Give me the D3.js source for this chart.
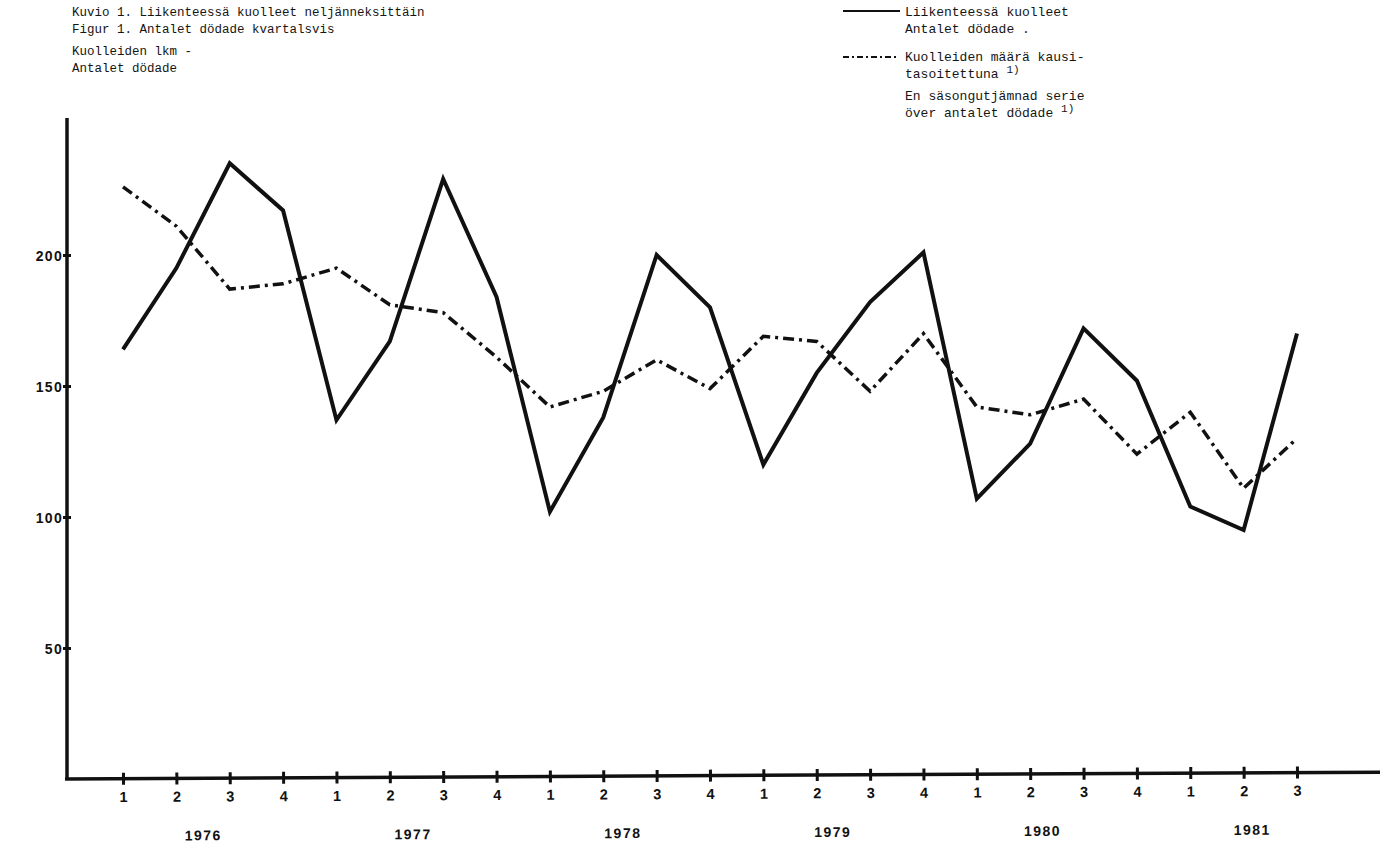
<!DOCTYPE html>
<html>
<head>
<meta charset="utf-8">
<script src="https://cdn.jsdelivr.net/npm/d3@7/dist/d3.min.js"></script>
<style>
  html, body { margin: 0; padding: 0; background: #fff; }
  svg { display: block; }
  .mono { font-family: "Liberation Mono", "DejaVu Sans Mono", monospace; fill: #151515; }
  .tick-lbl { font-family: "Liberation Sans", Arial, sans-serif; font-weight: bold; fill: #111; }
</style>
</head>
<body>
<svg id="chart" width="1385" height="850"></svg>
<script>
// ---- data ----
const quarterLabels = ["1","2","3","4","1","2","3","4","1","2","3","4","1","2","3","4","1","2","3","4","1","2","3"];
const years = ["1976","1977","1978","1979","1980","1981"];
const deaths = [164,195,235,217,137,167,229,184,102,138,200,180,120,155,182,201,107,128,172,152,104,95,170];
const seasonal = [226,211,187,189,195,181,178,161,142,148,160,149,169,167,148,170,142,139,145,124,140,111,130];
const yTicks = [50,100,150,200];
const titleLines = ["Kuvio 1. Liikenteessä kuolleet neljänneksittäin", "Figur 1. Antalet dödade kvartalsvis"];
const yTitleLines = ["Kuolleiden lkm -", "Antalet dödade"];
const legendSolid = ["Liikenteessä kuolleet", "Antalet dödade ."];
const legendDash = [["Kuolleiden määrä kausi-", ""], ["tasoitettuna ", "1)"], ["En säsongutjämnad serie", ""], ["över antalet dödade ", "1)"]];

const svg = d3.select("#chart");
const x = d3.scaleLinear().domain([0, 22]).range([123, 1297]);
const y = d3.scaleLinear().domain([0, 250]).range([779, 124]);
const yearX = d3.scalePoint().domain(years).range([203, 1252]);
const axisX0 = 67;

// titles
svg.selectAll("text.title").data(titleLines).join("text")
  .attr("class", "mono title").attr("x", 72).attr("y", (d, i) => 16 + i * 16.5)
  .attr("font-size", 12.5).text(d => d);
svg.selectAll("text.ytitle").data(yTitleLines).join("text")
  .attr("class", "mono ytitle").attr("x", 72).attr("y", (d, i) => 55 + i * 16.5)
  .attr("font-size", 12.5).text(d => d);

// legend
svg.append("line").attr("x1", 843).attr("x2", 900).attr("y1", 11).attr("y2", 11)
  .attr("stroke", "#111").attr("stroke-width", 1.8);
svg.selectAll("text.leg1").data(legendSolid).join("text")
  .attr("class", "mono leg1").attr("x", 905).attr("y", (d, i) => 16 + i * 17)
  .attr("font-size", 13).text(d => d);
svg.append("line").attr("x1", 843).attr("x2", 897).attr("y1", 57).attr("y2", 57)
  .attr("stroke", "#111").attr("stroke-width", 1.8).attr("stroke-dasharray", "6,3,2,3");
const ld = svg.selectAll("text.leg2").data(legendDash).join("text")
  .attr("class", "mono leg2").attr("x", 905).attr("y", (d, i) => [61, 78, 100, 117][i])
  .attr("font-size", 13);
ld.append("tspan").text(d => d[0]);
ld.append("tspan").attr("dy", -5).attr("font-size", 11).text(d => d[1]);

// y axis
const yAxis = d3.axisLeft(y).tickValues(yTicks).tickSize(5).tickFormat(d3.format("d"));
const gy = svg.append("g").attr("transform", `translate(${axisX0},0)`).call(yAxis);
gy.select(".domain").remove();
gy.selectAll(".tick line").attr("stroke", "#111").attr("stroke-width", 3).attr("x1", -4).attr("x2", 4);
gy.selectAll(".tick text").attr("class", "tick-lbl").attr("font-size", 14).attr("x", -4)
  .attr("letter-spacing", 1.3).attr("dy", "0.36em");
svg.append("line").attr("x1", axisX0).attr("x2", axisX0).attr("y1", 118).attr("y2", 780)
  .attr("stroke", "#111").attr("stroke-width", 3.5);

// x axis (scan is slightly tilted)
const gxWrap = svg.append("g").attr("transform", `rotate(-0.3, ${axisX0}, 779)`);
const xAxis = d3.axisBottom(x).tickValues(d3.range(quarterLabels.length)).tickSize(6)
  .tickFormat(i => quarterLabels[i]);
const gx = gxWrap.append("g").attr("transform", "translate(0,779)").call(xAxis);
gx.select(".domain").remove();
gx.selectAll(".tick line").attr("stroke", "#111").attr("stroke-width", 3).attr("y1", -6).attr("y2", 6);
gx.selectAll(".tick text").attr("class", "tick-lbl").attr("font-size", 14.5).attr("y", 13)
  .attr("dy", "0.71em");
gxWrap.append("line").attr("x1", axisX0 - 2).attr("x2", 1380).attr("y1", 779).attr("y2", 779)
  .attr("stroke", "#111").attr("stroke-width", 3.5);
gxWrap.selectAll("text.year").data(years).join("text")
  .attr("class", "tick-lbl year").attr("font-size", 14).attr("letter-spacing", 1.5)
  .attr("text-anchor", "middle")
  .attr("x", d => yearX(d)).attr("y", 841).text(d => d);

// lines
const line = d3.line().x((d, i) => x(i)).y(d => y(d));
svg.append("path").datum(deaths).attr("d", line).attr("fill", "none")
  .attr("stroke", "#111").attr("stroke-width", 4).attr("stroke-linejoin", "miter");
svg.append("path").datum(seasonal).attr("d", line).attr("fill", "none")
  .attr("stroke", "#111").attr("stroke-width", 3.5).attr("stroke-dasharray", "11,5,3,5");
</script>
</body>
</html>
